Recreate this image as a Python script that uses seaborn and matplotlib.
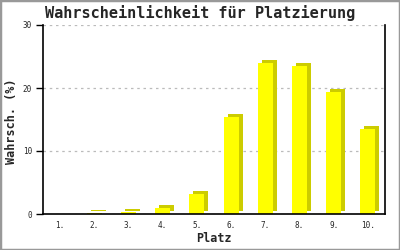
import matplotlib
matplotlib.use("Agg")
import matplotlib.pyplot as plt
import matplotlib.transforms as mtransforms
from matplotlib.patches import Rectangle
import seaborn as sns
import pandas as pd

places = ["1.", "2.", "3.", "4.", "5.", "6.", "7.", "8.", "9.", "10."]
probs = [0.0, 0.1, 0.25, 1.0, 3.2, 15.4, 24.0, 23.5, 19.3, 13.5]
title = "Wahrscheinlichkeit für Platzierung"
xlabel = "Platz"
ylabel = "Wahrsch. (%)"
yticks = [0, 10, 20, 30]

df = pd.DataFrame({"Platz": places, "Wert": probs})

sns.set_style("white")
plt.rcParams["font.family"] = ["DejaVu Sans Mono", "DejaVu Sans"]

fig = plt.figure(figsize=(4, 2.5), dpi=100)
ax = fig.add_axes([43 / 400, 1 - 214 / 250, (385 - 43) / 400, (214 - 25) / 250])

# shadow (3D depth) drawn first, offset up/right
sns.barplot(data=df, x="Platz", y="Wert", color="#cccc00", saturation=1,
            width=0.44, ax=ax, edgecolor="none", linewidth=0, zorder=2)
offset = mtransforms.ScaledTranslation(4 / 100, 3 / 100, fig.dpi_scale_trans)
for p in ax.patches:
    p.set_transform(ax.transData + offset)
sns.barplot(data=df, x="Platz", y="Wert", color="#ffff00", saturation=1,
            width=0.44, ax=ax, edgecolor="none", linewidth=0, zorder=3)

ax.set_ylim(0, 30)
ax.set_xlim(-0.5, 9.5)
ax.set_yticks(yticks)
ax.set_yticklabels([str(t) for t in yticks], fontsize=5.5)
ax.tick_params(axis="y", length=5, width=1, color="black", pad=3, left=True)
ax.tick_params(axis="x", length=0, pad=5, labelsize=5.5)
ax.yaxis.grid(True, linestyle=(0, (2, 3)), color="#bbbbbb", linewidth=0.9)
ax.set_axisbelow(True)

for s in ["left", "bottom", "right"]:
    ax.spines[s].set_visible(True)
    ax.spines[s].set_color("black")
    ax.spines[s].set_linewidth(1.2)
    ax.spines[s].set_zorder(5)
ax.spines["top"].set_visible(False)

ax.set_xlabel(xlabel, fontsize=8.5, fontweight="bold")
ax.set_ylabel(ylabel, fontsize=8.5, fontweight="bold")
ax.xaxis.label.set_va("center")
ax.yaxis.label.set_va("center")
ax.xaxis.set_label_coords(0.5, (214 - 239) / 189)
ax.yaxis.set_label_coords((12 - 43) / 342, (214 - 121) / 189)
fig.text(200 / 400, 1 - 13 / 250, title, ha="center", va="center",
         fontsize=11, fontweight="bold")

fig.patches.append(Rectangle((0, 0), 1, 1, transform=fig.transFigure,
                             fill=False, edgecolor="#999999", linewidth=2.5))

fig.savefig("out.png", dpi=100)
